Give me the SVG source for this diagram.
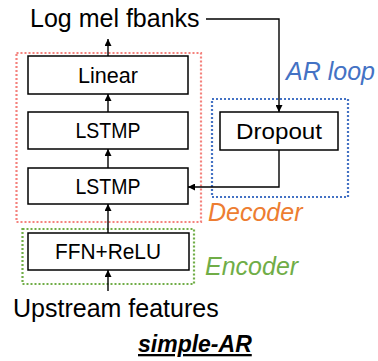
<svg xmlns="http://www.w3.org/2000/svg" width="378" height="361" viewBox="0 0 378 361">
<style>
.box{fill:#fff;stroke:#000;stroke-width:1.5}
.lbl{font-family:"Liberation Sans",Arial,sans-serif;font-size:21.5px;fill:#000;text-anchor:middle}
.big{font-family:"Liberation Sans",Arial,sans-serif;font-size:25px;fill:#000}
.grp{font-family:"Liberation Sans",Arial,sans-serif;font-size:25px;font-style:italic}
.dot{fill:none;stroke-width:2.2;stroke-dasharray:2 2}
.edge{fill:none;stroke:#000;stroke-width:1.4}
</style>
<defs>
<marker id="ah" viewBox="0 0 10 10" refX="10" refY="5" markerWidth="7" markerHeight="7" markerUnits="userSpaceOnUse" orient="auto">
<path d="M0,0 L10,5 L0,10 z" fill="#000"/>
</marker>
</defs>
<rect width="378" height="361" fill="#fff"/>
<g id="groups">
<rect id="decoder-frame" class="dot" x="16.5" y="53" width="184.5" height="169" stroke="#f4827d"/>
<rect id="encoder-frame" class="dot" x="22.5" y="229" width="171.5" height="55" stroke="#70ad47"/>
<rect id="arloop-frame" class="dot" x="212" y="99" width="136" height="98" stroke="#4472c4"/>
<text class="grp" x="286" y="80" fill="#4472c4">AR loop</text>
<text class="grp" x="208" y="221" fill="#ed7d31">Decoder</text>
<text class="grp" x="205" y="275" fill="#70ad47">Encoder</text>
</g>
<g id="connectors">
<line class="edge" x1="108" y1="56" x2="108" y2="39" marker-end="url(#ah)"/>
<line class="edge" x1="108" y1="112" x2="108" y2="94" marker-end="url(#ah)"/>
<line class="edge" x1="108" y1="168" x2="108" y2="149" marker-end="url(#ah)"/>
<line class="edge" x1="108" y1="233" x2="108" y2="204" marker-end="url(#ah)"/>
<line class="edge" x1="108" y1="291" x2="108" y2="270" marker-end="url(#ah)"/>
<polyline class="edge" points="206,19 279,19 279,112" marker-end="url(#ah)"/>
<polyline class="edge" points="279,150 279,187 188,187" marker-end="url(#ah)"/>
</g>
<g id="n-logmel"><text class="big" x="30" y="27">Log mel fbanks</text></g>
<g id="n-linear"><rect class="box" x="28" y="56" width="160" height="38"/><text class="lbl" x="108" y="83" textLength="60" lengthAdjust="spacingAndGlyphs">Linear</text></g>
<g id="n-lstmp1"><rect class="box" x="28" y="112" width="160" height="37"/><text class="lbl" x="108" y="138" textLength="65" lengthAdjust="spacingAndGlyphs">LSTMP</text></g>
<g id="n-lstmp2"><rect class="box" x="28" y="168" width="160" height="36"/><text class="lbl" x="108" y="194" textLength="65" lengthAdjust="spacingAndGlyphs">LSTMP</text></g>
<g id="n-dropout"><rect class="box" x="220" y="112" width="118" height="38"/><text class="lbl" x="279" y="139" textLength="86" lengthAdjust="spacingAndGlyphs">Dropout</text></g>
<g id="n-ffn"><rect class="box" x="28" y="233" width="161" height="37"/><text class="lbl" x="108" y="259" textLength="106" lengthAdjust="spacingAndGlyphs">FFN+ReLU</text></g>
<g id="n-upstream"><text class="big" x="13" y="317">Upstream features</text></g>
<g id="title"><text x="138" y="352" font-family="'Liberation Sans',Arial,sans-serif" font-size="23" font-weight="bold" font-style="italic" text-decoration="underline" fill="#000">simple-AR</text></g>
</svg>
